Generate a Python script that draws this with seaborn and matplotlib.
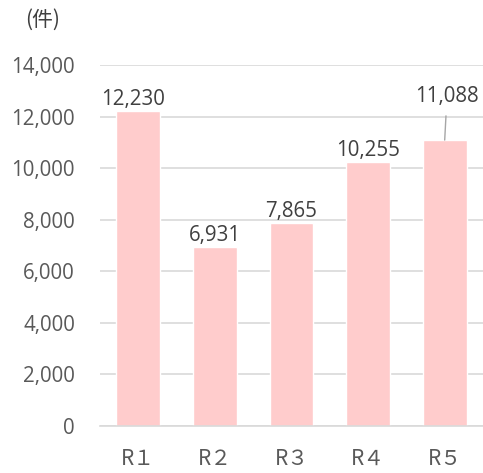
import matplotlib
matplotlib.use("Agg")
import matplotlib.pyplot as plt
import seaborn as sns
import pandas as pd

categories = ["R１", "R２", "R３", "R４", "R５"]
values = [12230, 6931, 7865, 10255, 11088]
yticks = [0, 2000, 4000, 6000, 8000, 10000, 12000, 14000]

sns.set_theme(style="white")
plt.rcParams['font.family'] = ['Open Sans', 'Noto Sans CJK JP', 'DejaVu Sans']

df = pd.DataFrame({"cat": categories, "val": values})

fig = plt.figure(figsize=(4.83, 4.73), dpi=100)
ax = fig.add_axes([0.207, 0.0994, 0.793, 0.7632])
sns.barplot(data=df, x="cat", y="val", color="#FFCCCC", saturation=1, width=0.57, ax=ax)

ax.set_ylim(0, 14000)
ax.set_xlim(-0.5, 4.5)
ax.set_yticks(yticks)
ax.set_yticklabels([f"{v:,}" for v in yticks])
ax.yaxis.grid(True, color="#D9D9D9", linewidth=1.2)
ax.set_axisbelow(True)
for s in ["top", "right", "left"]:
    ax.spines[s].set_visible(False)
ax.spines["bottom"].set_color("#D9D9D9")
ax.spines["bottom"].set_linewidth(1.2)
ax.tick_params(axis="y", length=0, labelsize=14.8, colors="#595959", pad=18)
ax.tick_params(axis="x", length=0, labelsize=15, colors="#595959", pad=16)
for lab in ax.get_xticklabels():
    lab.set_fontfamily(['Noto Sans CJK JP', 'DejaVu Sans'])
ax.set_xlabel("")
ax.set_ylabel("")

for i, v in enumerate(values):
    if i == 4:
        ax.annotate(f"{v:,}", xy=(i, v), xytext=(i + 0.03, v + 1475),
                    ha="center", va="baseline", fontsize=14.8, color="#404040",
                    arrowprops=dict(arrowstyle="-", color="#A6A6A6", lw=1,
                                    shrinkA=4, shrinkB=0))
    else:
        dx = -0.07 if i == 0 else 0
        ax.text(i + dx, v + 233, f"{v:,}", ha="center", va="baseline", fontsize=14.8, color="#404040")

fig.text(25 / 483, 1 - 20 / 473, "(件)", fontsize=15, color="#404040", ha="left", va="center",
         family=['Noto Sans CJK JP', 'DejaVu Sans'])

fig.savefig("out.png", dpi=100)
